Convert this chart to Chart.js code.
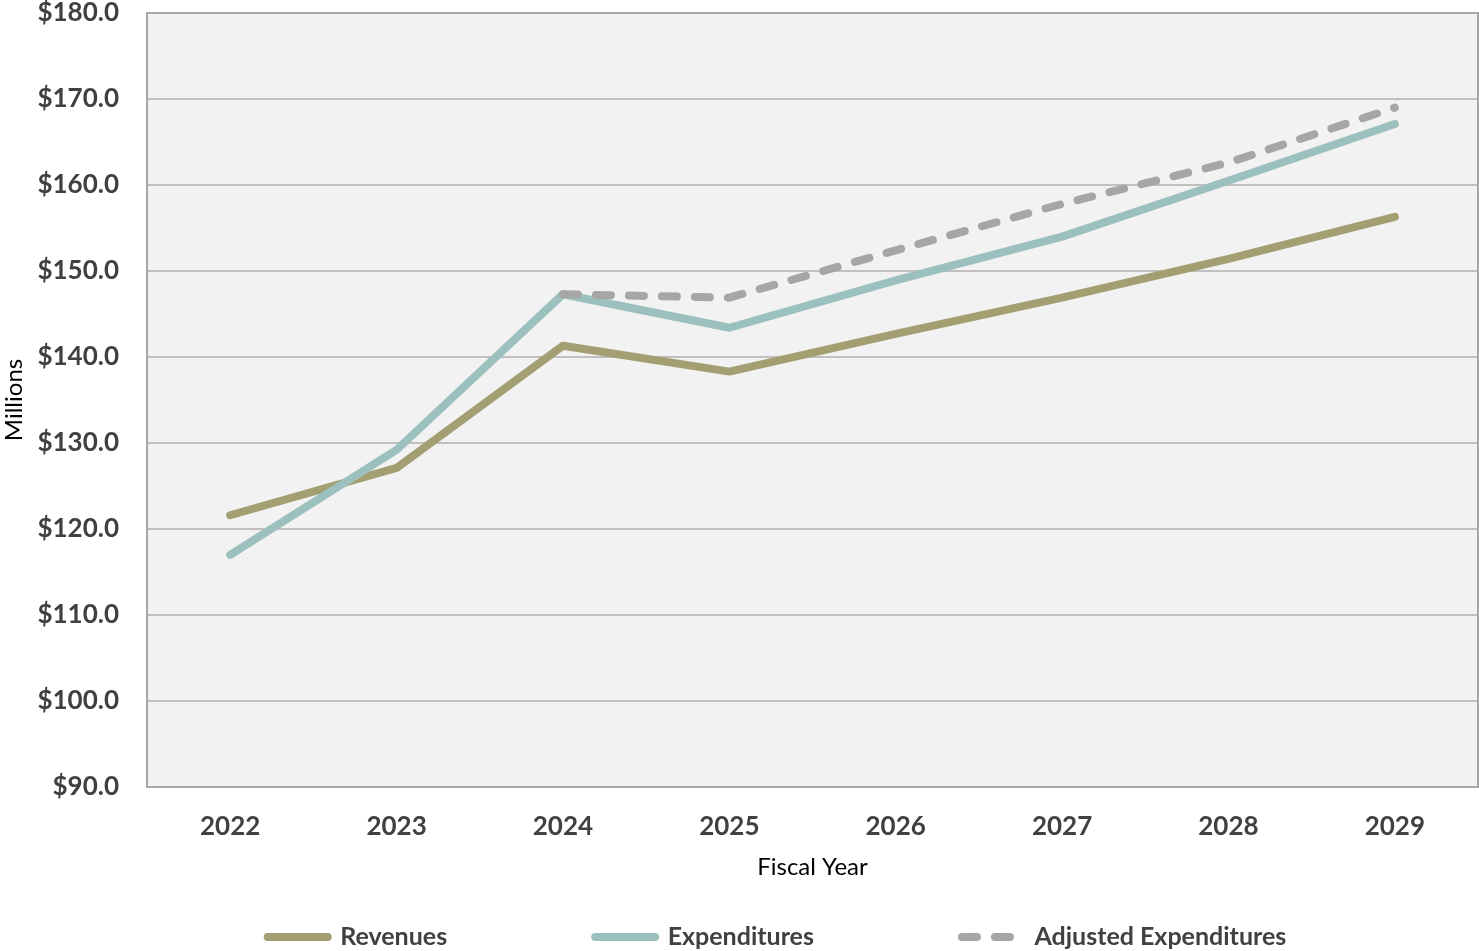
<!DOCTYPE html>
<html>
<head>
<meta charset="utf-8">
<title>Revenues and Expenditures by Fiscal Year</title>
<script src="https://cdn.jsdelivr.net/npm/chart.js@4.4.1/dist/chart.umd.min.js"></script>
<style>
  html, body { margin: 0; padding: 0; background: #ffffff; }
  canvas { display: block; }
</style>
</head>
<body>
<canvas id="chart" width="1479" height="951"></canvas>
<script>
// Fiscal years on the x axis
const years = ['2022', '2023', '2024', '2025', '2026', '2027', '2028', '2029'];

// Values in millions of dollars
const revenues = [121.6, 127.1, 141.3, 138.3, 142.7, 146.9, 151.4, 156.3];
const expenditures = [117.0, 129.2, 147.3, 143.4, 148.9, 154.0, 160.5, 167.1];
const adjustedExpenditures = [null, null, 147.3, 146.9, 152.4, 157.8, 162.6, 169.0];

// Value axis range and step
const yMin = 90;
const yMax = 180;
const yStep = 10;

const textColor = '#404040';
const fontFamily = 'Lato, "Open Sans", sans-serif';

// Grey plot background and a thin frame around the plot area
const plotFrame = {
  id: 'plotFrame',
  beforeDraw(chart) {
    const { ctx, chartArea: a } = chart;
    ctx.save();
    ctx.fillStyle = '#f2f2f2';
    ctx.fillRect(a.left, a.top, a.right - a.left, a.bottom - a.top);
    ctx.restore();
  },
  beforeDatasetsDraw(chart) {
    const { ctx, chartArea: a } = chart;
    ctx.save();
    ctx.strokeStyle = '#a6a6a6';
    ctx.lineWidth = 2;
    ctx.strokeRect(a.left, a.top, a.right - a.left, a.bottom - a.top);
    ctx.restore();
  }
};

// Places the legend row near the bottom edge, a little right of centre
const legendPlacement = {
  id: 'legendPlacement',
  afterUpdate(chart) {
    const lg = chart.legend;
    const pad = lg.options.labels.padding;
    const size = lg.options.labels.font.size;
    const dx = 38;
    lg.left += dx;
    lg.right += dx;
    lg.top = 937 - size / 2 - pad;
    lg.bottom = chart.height;
  }
};

// Legend samples use each dataset's own line style (round caps, dashes)
function lineLegendLabels(chart) {
  const items = Chart.defaults.plugins.legend.labels.generateLabels(chart);
  items.forEach((item) => {
    const ds = chart.data.datasets[item.datasetIndex];
    item.strokeStyle = ds.borderColor;
    item.fillStyle = ds.borderColor;
    item.lineWidth = ds.borderWidth;
    item.lineCap = 'round';
    item.lineJoin = 'round';
    item.lineDash = ds.borderDash || [];
    item.lineDashOffset = 0;
    item.pointStyle = 'line';
  });
  return items;
}

new Chart(document.getElementById('chart'), {
  type: 'line',
  data: {
    labels: years,
    datasets: [
      {
        label: 'Revenues',
        data: revenues,
        borderColor: '#a39f72',
        backgroundColor: '#a39f72',
        borderWidth: 8,
        borderCapStyle: 'round',
        borderJoinStyle: 'round',
        pointRadius: 0,
        tension: 0,
        order: 2
      },
      {
        label: 'Expenditures',
        data: expenditures,
        borderColor: '#9cc0bd',
        backgroundColor: '#9cc0bd',
        borderWidth: 8,
        borderCapStyle: 'round',
        borderJoinStyle: 'round',
        pointRadius: 0,
        tension: 0,
        order: 1
      },
      {
        label: 'Adjusted Expenditures',
        data: adjustedExpenditures,
        borderColor: '#a6a6a6',
        backgroundColor: '#a6a6a6',
        borderWidth: 8,
        borderDash: [15, 18],
        borderCapStyle: 'round',
        borderJoinStyle: 'round',
        pointRadius: 0,
        tension: 0,
        spanGaps: false,
        order: 0
      }
    ]
  },
  options: {
    responsive: false,
    animation: false,
    devicePixelRatio: 1,
    layout: { padding: { top: 13, right: 1, bottom: 0, left: 0 } },
    plugins: {
      tooltip: { enabled: false },
      legend: {
        position: 'bottom',
        maxHeight: 69,
        labels: {
          usePointStyle: true,
          pointStyle: 'line',
          pointStyleWidth: 60,
          padding: 148,
          color: textColor,
          font: { family: fontFamily, size: 25, weight: 'bold' },
          generateLabels: lineLegendLabels,
          sort: (a, b) => a.datasetIndex - b.datasetIndex
        }
      }
    },
    scales: {
      x: {
        type: 'category',
        offset: true,
        grid: { display: false, drawTicks: false },
        border: { display: false },
        ticks: {
          padding: 27,
          color: textColor,
          font: { family: fontFamily, size: 26, weight: 'bold', lineHeight: 1 }
        },
        title: {
          display: true,
          text: 'Fiscal Year',
          color: '#000000',
          padding: 0,
          font: { family: fontFamily, size: 24, lineHeight: 1.2 }
        },
        afterFit(scale) { scale.height = 95; }
      },
      y: {
        min: yMin,
        max: yMax,
        grid: {
          color: '#c0c0c0',
          lineWidth: 2,
          drawTicks: true,
          tickLength: 28,
          tickColor: 'rgba(0,0,0,0)'
        },
        border: { display: false },
        ticks: {
          stepSize: yStep,
          padding: 0,
          color: textColor,
          font: { family: fontFamily, size: 26, weight: 'bold', lineHeight: 1 },
          callback: (v) => '$' + Number(v).toFixed(1)
        },
        title: {
          display: true,
          text: 'Millions',
          color: '#000000',
          padding: 0,
          font: { family: fontFamily, size: 24, lineHeight: 1.2 }
        },
        afterFit(scale) { scale.width = 147; }
      }
    }
  },
  plugins: [plotFrame, legendPlacement]
});
</script>
</body>
</html>
